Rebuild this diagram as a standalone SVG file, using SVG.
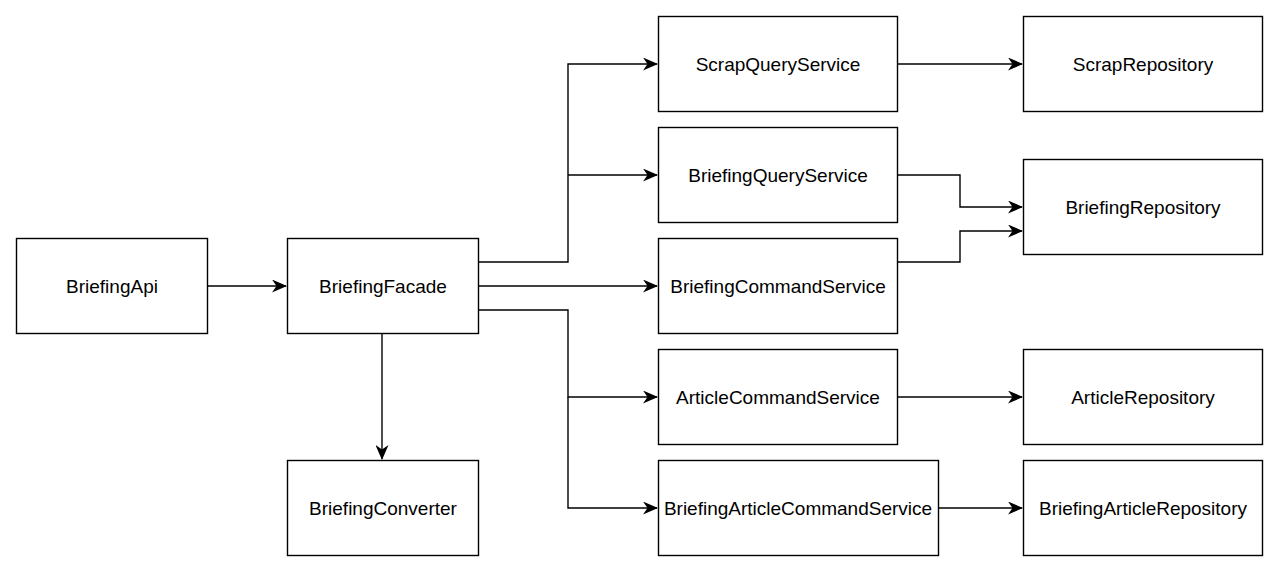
<svg xmlns="http://www.w3.org/2000/svg" width="1280" height="574" viewBox="0 0 1280 574">
<style>
.box{fill:#fff;stroke:#000;stroke-width:1.4}
.lbl{font-family:"Liberation Sans",Arial,Helvetica,sans-serif;font-size:19px;fill:#000;text-anchor:middle;dominant-baseline:central}
.edge{fill:none;stroke:#000;stroke-width:1.4;marker-end:url(#arr)}
</style>
<defs>
<marker id="arr" markerWidth="15" markerHeight="13" viewBox="0 0 15 13" refX="14" refY="6.5" orient="auto" markerUnits="userSpaceOnUse">
<path d="M0,0 L15,6.5 L0,13 L4.5,6.5 Z" fill="#000"/>
</marker>
</defs>
<rect width="1280" height="574" fill="#fff"/>
<g id="connectors">
<path class="edge" d="M207,286 H286"/>
<path class="edge" d="M382,333 V459"/>
<path class="edge" d="M478,262 H568 V64 H657"/>
<path class="edge" d="M568,175 H657"/>
<path class="edge" d="M478,286 H657"/>
<path class="edge" d="M478,310 H568 V397 H657"/>
<path class="edge" d="M568,397 V508 H657"/>
<path class="edge" d="M897,64 H1022"/>
<path class="edge" d="M897,175 H960 V207 H1022"/>
<path class="edge" d="M897,262 H960 V231 H1022"/>
<path class="edge" d="M897,397 H1022"/>
<path class="edge" d="M938,508 H1022"/>
</g>
<g id="BriefingApi"><rect class="box" x="16.5" y="238.5" width="191" height="95"/><text class="lbl" x="112" y="286">BriefingApi</text></g>
<g id="BriefingFacade"><rect class="box" x="287.5" y="238.5" width="191" height="95"/><text class="lbl" x="383" y="286">BriefingFacade</text></g>
<g id="BriefingConverter"><rect class="box" x="287.5" y="460.5" width="191" height="95"/><text class="lbl" x="383" y="508">BriefingConverter</text></g>
<g id="ScrapQueryService"><rect class="box" x="658.5" y="16.5" width="239" height="95"/><text class="lbl" x="778" y="64">ScrapQueryService</text></g>
<g id="BriefingQueryService"><rect class="box" x="658.5" y="127.5" width="239" height="95"/><text class="lbl" x="778" y="175">BriefingQueryService</text></g>
<g id="BriefingCommandService"><rect class="box" x="658.5" y="238.5" width="239" height="95"/><text class="lbl" x="778" y="286">BriefingCommandService</text></g>
<g id="ArticleCommandService"><rect class="box" x="658.5" y="349.5" width="239" height="95"/><text class="lbl" x="778" y="397">ArticleCommandService</text></g>
<g id="BriefingArticleCommandService"><rect class="box" x="658.5" y="460.5" width="280" height="95"/><text class="lbl" x="798" y="508">BriefingArticleCommandService</text></g>
<g id="ScrapRepository"><rect class="box" x="1023.5" y="16.5" width="239" height="95"/><text class="lbl" x="1143" y="64">ScrapRepository</text></g>
<g id="BriefingRepository"><rect class="box" x="1023.5" y="159.5" width="239" height="95"/><text class="lbl" x="1143" y="207">BriefingRepository</text></g>
<g id="ArticleRepository"><rect class="box" x="1023.5" y="349.5" width="239" height="95"/><text class="lbl" x="1143" y="397">ArticleRepository</text></g>
<g id="BriefingArticleRepository"><rect class="box" x="1023.5" y="460.5" width="239" height="95"/><text class="lbl" x="1143" y="508">BriefingArticleRepository</text></g>
</svg>
